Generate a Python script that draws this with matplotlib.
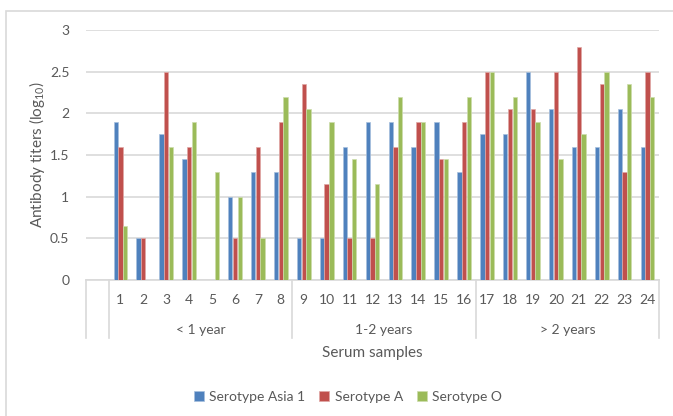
import numpy as np
import matplotlib.pyplot as plt
from matplotlib.patches import Rectangle

plt.rcParams['font.family'] = ['Lato', 'DejaVu Sans']
plt.rcParams['mathtext.fontset'] = 'custom'
plt.rcParams['mathtext.rm'] = 'Lato'

# data (log10 titers)
samples = [str(i) for i in range(1, 25)]
groups = ['< 1 year', '1-2 years', '> 2 years']
asia1 = [1.9, 0.5, 1.75, 1.45, 0, 1.0, 1.3, 1.3,
         0.5, 0.5, 1.6, 1.9, 1.9, 1.6, 1.9, 1.3,
         1.75, 1.75, 2.5, 2.05, 1.6, 1.6, 2.05, 1.6]
sero_a = [1.6, 0.5, 2.5, 1.6, 0, 0.5, 1.6, 1.9,
          2.35, 1.15, 0.5, 0.5, 1.6, 1.9, 1.45, 1.9,
          2.5, 2.05, 2.05, 2.5, 2.8, 2.35, 1.3, 2.5]
sero_o = [0.65, 0, 1.6, 1.9, 1.3, 1.0, 0.5, 2.2,
          2.05, 1.9, 1.45, 1.15, 2.2, 1.9, 1.45, 2.2,
          2.5, 2.2, 1.9, 1.45, 1.75, 2.5, 2.35, 2.2]

series = [('Serotype Asia 1', asia1, '#4F81BD', '#A7C0DE'),
          ('Serotype A', sero_a, '#C0504D', '#E0A8A6'),
          ('Serotype O', sero_o, '#9BBB59', '#CDDDAC')]

txt = '#595959'
grid = '#D9D9D9'

fig = plt.figure(figsize=(6.73, 4.16), dpi=100)
ax = fig.add_axes([86/673, 1 - 280/416, 573/673, 250/416])

x = np.arange(1, 25)
w = 0.19
for k, (name, vals, col, edge) in enumerate(series):
    ax.bar(x + (k - 1) * 0.205, vals, width=w, color=col, edgecolor=edge,
           linewidth=0.5, label=name, zorder=3)

ax.set_xlim(-0.5, 24.5)
ax.set_ylim(0, 3)
ax.set_yticks(np.arange(0, 3.01, 0.5))
ax.set_yticklabels(['0', '0.5', '1', '1.5', '2', '2.5', '3'])
ax.tick_params(axis='y', length=0, pad=12, labelsize=10, labelcolor=txt)
ax.set_xticks([])
ax.yaxis.grid(True, color=grid, linewidth=1.2, zorder=0)
for s in ['top', 'right', 'left']:
    ax.spines[s].set_visible(False)
ax.spines['bottom'].set_color(grid)
ax.spines['bottom'].set_linewidth(1.2)

# multi-level category axis
trans = ax.get_xaxis_transform()
for i, lab in zip(x, samples):
    ax.text(i, -0.08, lab, transform=trans, ha='center', va='center',
            fontsize=10, color=txt)
for g, lab in enumerate(groups):
    ax.text(4.5 + 8 * g, -0.2, lab, transform=trans, ha='center',
            va='center', fontsize=10, color=txt)
for b in [-0.5, 0.5, 8.5, 16.5, 24.5]:
    ax.plot([b, b], [0, -0.232], transform=trans, color=grid, lw=1.2,
            clip_on=False)

ax.text(12, -0.29, 'Serum samples', transform=trans, ha='center',
        va='center', fontsize=11, color=txt)
fig.text(37/673, 1 - 155/416, 'Antibody titers (log$_{10}$)', rotation=90,
         ha='center', va='center', fontsize=11, color=txt)

fig.legend(loc='center', bbox_to_anchor=(348/673, 1 - 397/416), ncol=3,
           frameon=False, fontsize=10, labelcolor=txt, handlelength=0.7,
           handleheight=0.7, handletextpad=0.4, columnspacing=1.0)

fig.patches.append(Rectangle((6/673, -0.01), 1.0, 1 - 11/416 + 0.01,
                             transform=fig.transFigure, fill=False,
                             edgecolor=grid, lw=1.2))

fig.savefig('out.png', dpi=100)
